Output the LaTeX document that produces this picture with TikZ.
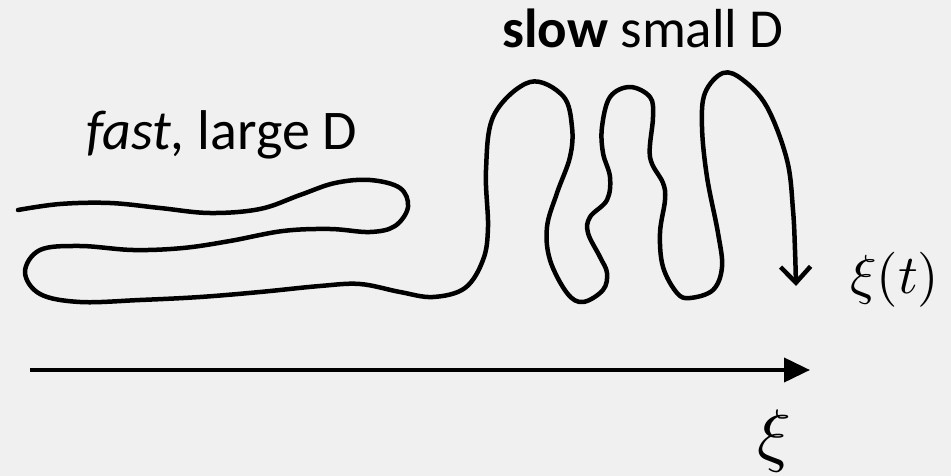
\documentclass[tikz,border=0pt]{standalone}
\usepackage{fontspec}
\setmainfont{Carlito}
\usetikzlibrary{arrows.meta}
\definecolor{bg}{HTML}{F0F0F0}
\tikzset{
  lbl/.style={inner sep=0pt, anchor=base west},
  walk/.style={line width=4.5pt, line cap=round, line join=round, black},
  axis/.style={line width=4pt, -{Triangle[length=26pt,width=24pt]}}
}
\begin{document}
\begin{tikzpicture}[x=1pt,y=-1pt]
\fill[bg] (0,0) rectangle (951,476);
\useasboundingbox (0,0) rectangle (951,476);
% labels
\node[lbl] (fast) at (86,150) {\fontsize{56}{64}\selectfont{\itshape fast,} large D};
\node[lbl] (slow) at (502,48) {\fontsize{55}{64}\selectfont{\bfseries slow} small D};
\node[lbl, scale=5.5] (xit) at (849,293) {$\xi(t)$};
\node[lbl, scale=7] (xi) at (756,458) {$\xi$};
% axis
\coordinate (a0) at (30,370);
\coordinate (a1) at (810,370);
\draw[axis] (a0) -- (a1);
% random walk
\draw[walk, -{Straight Barb[length=16pt,width=30pt,line width=4.5pt]}] plot[smooth, tension=0.6] coordinates {
(18,210) (60,204) (110,203) (160,208) (210,213) (260,209) (300,195) (335,183)
(370,180) (400,188) (408,207) (395,226) (370,232) (330,229) (283,231) (230,241)
(183,248) (133,250) (80,246) (40,250) (25,272) (40,294) (80,302) (140,300)
(200,297) (260,292) (320,286) (360,284) (400,292) (433,297) (465,288) (483,260)
(488,227) (486,170) (494,115) (530,82) (563,96) (572,127) (570,157) (557,193)
(547,227) (550,260) (567,293) (583,302) (603,290) (607,273) (600,257) (588,233)
(590,217) (607,200) (610,177) (603,153) (602,127) (610,97) (630,87) (650,97)
(653,117) (650,157) (663,183) (665,200) (660,233) (663,267) (677,293) (690,298)
(713,290) (722,267) (718,233) (707,177) (702,127) (705,93) (723,73) (743,80)
(767,107) (787,160) (793,210) (795,250) (796,286)};
\end{tikzpicture}
\end{document}
